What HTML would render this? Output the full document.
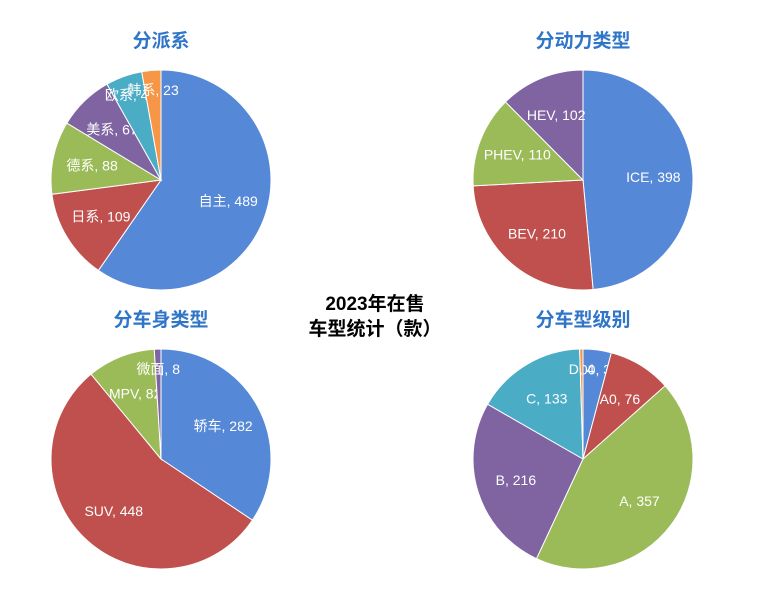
<!DOCTYPE html>
<html><head><meta charset="utf-8"><style>
body{margin:0;background:#fff;}
svg{display:block;font-family:"Liberation Sans","Noto Sans CJK SC",sans-serif;}
</style></head><body>
<svg id="c" width="771" height="608">
<text x="375" y="310" text-anchor="middle" font-size="19" font-weight="bold" fill="#000">2023年在售</text>
<text x="375" y="335" text-anchor="middle" font-size="19" font-weight="bold" fill="#000">车型统计（款）</text>
</svg>
<script>
const colors=["#5588D6","#C0504D","#9BBB59","#8064A2","#4BACC6","#F79646"];
const cats1=["自主","日系","德系","美系","欧系","韩系"];
const vals1=[489,109,88,67,44,23];
const cats2=["ICE","BEV","PHEV","HEV"];
const vals2=[398,210,110,102];
const cats3=["轿车","SUV","MPV","微面"];
const vals3=[282,448,82,8];
const cats4=["A00","A0","A","B","C","D"];
const vals4=[34,76,357,216,133,4];
const titles=["分派系","分动力类型","分车身类型","分车型级别"];
const svg=document.getElementById('c');
const NS="http://www.w3.org/2000/svg";
function pie(cx,cy,r,cats,vals,title,ty,idx){
  const t=document.createElementNS(NS,'text');
  
  
  t.setAttribute('x',cx);t.setAttribute('y',ty);t.setAttribute('text-anchor','middle');
  t.setAttribute('font-size','19');t.setAttribute('font-weight','bold');t.setAttribute('fill','#2F75C8');
  t.textContent=title;svg.appendChild(t);
  const tot=vals.reduce((a,b)=>a+b,0);let a0=0;
  vals.forEach((v,i)=>{
    const a1=a0+v/tot*2*Math.PI;
    const x0=cx+r*Math.sin(a0),y0=cy-r*Math.cos(a0),x1=cx+r*Math.sin(a1),y1=cy-r*Math.cos(a1);
    const p=document.createElementNS(NS,'path');
    
    
    p.setAttribute('d',`M${cx},${cy}L${x0},${y0}A${r},${r} 0 ${a1-a0>Math.PI?1:0} 1 ${x1},${y1}Z`);
    p.setAttribute('fill',colors[i]);p.setAttribute('stroke','#fff');p.setAttribute('stroke-width','1');
    svg.appendChild(p);
    const m=(a0+a1)/2,f=v/tot<0.08?0.82:0.64;
    const l=document.createElementNS(NS,'text');
    
    
    l.setAttribute('x',cx+f*r*Math.sin(m));l.setAttribute('y',cy-f*r*Math.cos(m)+5);
    l.setAttribute('text-anchor','middle');l.setAttribute('font-size','14');l.setAttribute('fill','#fff');
    l.textContent=cats[i]+', '+v;svg.appendChild(l);
    a0=a1;
  });
}
pie(161,180,110,cats1,vals1,titles[0],47,1);
pie(583,180,110,cats2,vals2,titles[1],47,2);
pie(161,459,110,cats3,vals3,titles[2],326,3);
pie(583,459,110,cats4,vals4,titles[3],326,4);
</script>
</body></html>
